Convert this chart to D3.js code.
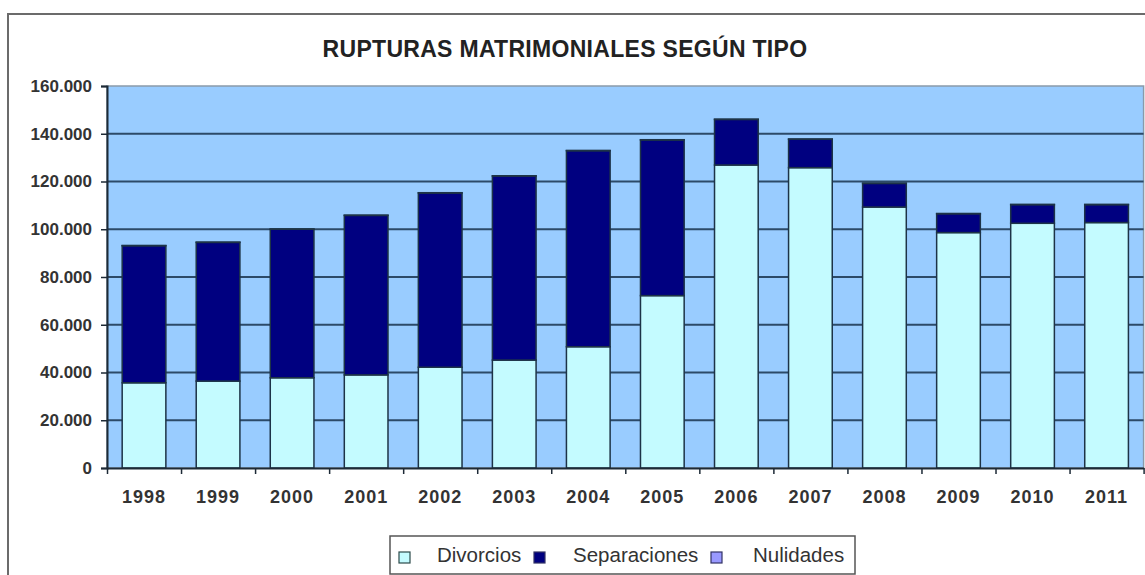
<!DOCTYPE html>
<html>
<head>
<meta charset="utf-8">
<script src="https://cdn.jsdelivr.net/npm/d3@7"></script>
<style>
  html, body { margin: 0; padding: 0; background: #ffffff; }
  svg { display: block; font-family: "Liberation Sans", Arial, sans-serif; }
</style>
</head>
<body>
<svg id="chart" width="1145" height="575"></svg>
<script>
const years = ["1998","1999","2000","2001","2002","2003","2004","2005","2006","2007","2008","2009","2010","2011"];
const divorcios = [35700, 36400, 37800, 39000, 42200, 45200, 50800, 72200, 126900, 125800, 109300, 98600, 102500, 102800];
const separaciones = [57400, 58100, 62200, 66800, 73000, 77100, 82100, 65200, 19100, 11900, 9900, 7900, 7800, 7500];
const nulidades = [100, 100, 100, 100, 100, 100, 100, 100, 100, 100, 100, 100, 100, 100];
const yTicks = [0, 20000, 40000, 60000, 80000, 100000, 120000, 140000, 160000];
const seriesNames = ["Divorcios", "Separaciones", "Nulidades"];
const seriesColors = ["#c4fbff", "#000080", "#9999ff"];
const title = "RUPTURAS MATRIMONIALES SEGÚN TIPO";

(function () {
const svg = d3.select("#chart");

// outer chart frame
svg.append("rect")
  .attr("x", 8).attr("y", 14).attr("width", 1160).attr("height", 600)
  .attr("fill", "#ffffff").attr("stroke", "#6b6b6b").attr("stroke-width", 2);

const pLeft = 107, pRight = 1143.6, pTop = 86, pBottom = 468;

const y = d3.scaleLinear().domain([0, 160000]).range([pBottom, pTop]);
const x = d3.scaleBand().domain(years).range([pLeft, pRight]).paddingInner(0.41).paddingOuter(0.205);
const xb = d3.scaleLinear().domain([0, years.length]).range([pLeft, pRight]);

// plot background
svg.append("rect")
  .attr("x", pLeft).attr("y", pTop).attr("width", pRight - pLeft).attr("height", pBottom - pTop)
  .attr("fill", "#99ccff").attr("stroke", "#8a9aaa").attr("stroke-width", 1.5);

// gridlines
svg.append("g").selectAll("line")
  .data(yTicks.filter(d => d > 0 && d < 160000))
  .join("line")
  .attr("x1", pLeft).attr("x2", pRight)
  .attr("y1", d => y(d)).attr("y2", d => y(d))
  .attr("stroke", "#2c4a68").attr("stroke-width", 2);

// stacked bars
const rows = years.map((yr, i) => ({ year: yr, Divorcios: divorcios[i], Separaciones: separaciones[i], Nulidades: nulidades[i] }));
const stacked = d3.stack().keys(seriesNames)(rows);

svg.append("g").selectAll("g")
  .data(stacked)
  .join("g")
  .attr("fill", (d, i) => seriesColors[i])
  .selectAll("rect")
  .data(d => d)
  .join("rect")
  .attr("x", d => x(d.data.year))
  .attr("width", x.bandwidth())
  .attr("y", d => y(d[1]))
  .attr("height", d => y(d[0]) - y(d[1]))
  .attr("stroke", "#1d3347").attr("stroke-width", 1.5);

// y axis
const fmt = d3.formatLocale({ decimal: ",", thousands: ".", grouping: [3], currency: ["", "€"] }).format(",");
const yAxis = svg.append("g")
  .attr("transform", `translate(${pLeft},0)`)
  .call(d3.axisLeft(y).tickValues(yTicks).tickFormat(fmt).tickSize(6).tickPadding(9));
yAxis.select(".domain").attr("stroke", "#1d2a36").attr("stroke-width", 2);
yAxis.selectAll(".tick line").attr("stroke", "#1d2a36").attr("stroke-width", 1.5);
yAxis.selectAll("text")
  .attr("font-size", 17).attr("font-weight", "bold").attr("fill", "#333333")
  .attr("font-family", "Liberation Sans, Arial, sans-serif");

// x axis line and boundary ticks
const xTickAxis = svg.append("g")
  .attr("transform", `translate(0,${pBottom})`)
  .call(d3.axisBottom(xb).tickValues(d3.range(0, years.length + 1)).tickFormat("").tickSize(6).tickSizeOuter(0));
xTickAxis.select(".domain").attr("stroke", "#1d2a36").attr("stroke-width", 2);
xTickAxis.selectAll(".tick line").attr("stroke", "#1d2a36").attr("stroke-width", 1.5);

// x labels
const xLabelAxis = svg.append("g")
  .attr("transform", `translate(0,${pBottom})`)
  .call(d3.axisBottom(x).tickSize(0).tickPadding(22));
xLabelAxis.select(".domain").remove();
xLabelAxis.selectAll("text")
  .attr("font-size", 18).attr("font-weight", "bold").attr("fill", "#333333")
  .attr("letter-spacing", "1px")
  .attr("font-family", "Liberation Sans, Arial, sans-serif");

// title
svg.append("text")
  .attr("x", 565).attr("y", 57)
  .attr("text-anchor", "middle")
  .attr("font-size", 23).attr("font-weight", "bold").attr("fill", "#222222")
  .attr("letter-spacing", "0.3px")
  .text(title);

// legend
const legend = svg.append("g");
legend.append("rect")
  .attr("x", 390).attr("y", 536).attr("width", 465).attr("height", 38)
  .attr("fill", "#ffffff").attr("stroke", "#555555").attr("stroke-width", 1.5);

const legendItems = [
  { sx: 399, tx: 437 },
  { sx: 534, tx: 573 },
  { sx: 711, tx: 753 }
];
const lg = legend.selectAll("g.item")
  .data(seriesNames)
  .join("g").attr("class", "item");
lg.append("rect")
  .attr("x", (d, i) => legendItems[i].sx).attr("y", 552)
  .attr("width", 11).attr("height", 11)
  .attr("fill", (d, i) => seriesColors[i])
  .attr("stroke", (d, i) => i === 0 ? "#2c4a4a" : "#333366").attr("stroke-width", 1.2);
lg.append("text")
  .attr("x", (d, i) => legendItems[i].tx).attr("y", 562)
  .attr("font-size", 20.5).attr("fill", "#333333")
  .text(d => d);
})();
</script>
</body>
</html>
